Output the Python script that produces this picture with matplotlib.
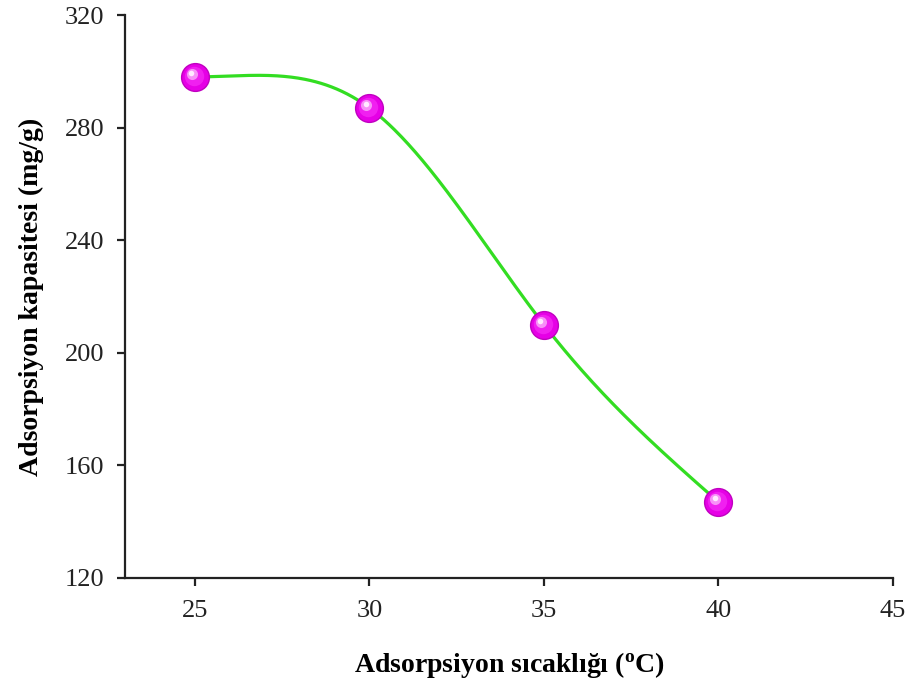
import numpy as np
import matplotlib
matplotlib.use("Agg")
import matplotlib.pyplot as plt
from matplotlib.transforms import ScaledTranslation

temps = [25, 30, 35, 40]
capacity = [298, 287, 210, 147]
x_ticks = [25, 30, 35, 40, 45]
y_ticks = [120, 160, 200, 240, 280, 320]

def spline(x, y, xs, start_slope=None):
    x = np.asarray(x, float); y = np.asarray(y, float)
    n = len(x)
    h = np.diff(x)
    A = np.zeros((n, n)); b = np.zeros(n)
    if start_slope is None:
        A[0, 0] = 1
    else:
        A[0, 0] = 2 * h[0]; A[0, 1] = h[0]
        b[0] = 6 * ((y[1] - y[0]) / h[0] - start_slope)
    A[-1, -1] = 1
    for i in range(1, n - 1):
        A[i, i - 1] = h[i - 1]
        A[i, i] = 2 * (h[i - 1] + h[i])
        A[i, i + 1] = h[i]
        b[i] = 6 * ((y[i + 1] - y[i]) / h[i] - (y[i] - y[i - 1]) / h[i - 1])
    M = np.linalg.solve(A, b)
    out = np.empty_like(xs)
    for k, xv in enumerate(xs):
        i = min(max(np.searchsorted(x, xv) - 1, 0), n - 2)
        t1 = x[i + 1] - xv; t0 = xv - x[i]
        out[k] = (M[i] * t1**3 + M[i + 1] * t0**3) / (6 * h[i]) \
            + (y[i] / h[i] - M[i] * h[i] / 6) * t1 \
            + (y[i + 1] / h[i] - M[i + 1] * h[i] / 6) * t0
    return out

plt.rcParams['font.family'] = ['Liberation Serif', 'DejaVu Serif']
fig = plt.figure(figsize=(9.09, 6.82), dpi=100)
ax = fig.add_axes([125/909, 1 - 578/682, (893-125)/909, (578-15)/682])

xs = np.linspace(temps[0], temps[-1], 300)
ax.plot(xs, spline(temps, capacity, xs, start_slope=0.0), color='#33dd22', lw=2.3, zorder=2)

def off(dx, dy):
    return ax.transData + ScaledTranslation(dx/100, dy/100, fig.dpi_scale_trans)

# spherical markers
ax.plot(temps, capacity, 'o', ms=20, color='#e600e6', mec='#c000c0', mew=1.0, zorder=3)
ax.plot(temps, capacity, 'o', ms=14, color='#f020f0', mew=0, zorder=4, transform=off(-1, 1))
ax.plot(temps, capacity, 'o', ms=8, color='#f890f8', mew=0, zorder=5, transform=off(-3, 3))
ax.plot(temps, capacity, 'o', ms=4, color='#ffeaff', mew=0, zorder=6, transform=off(-3.5, 3.5))

ax.set_xlim(23, 45)
ax.set_ylim(120, 320)
ax.set_xticks(x_ticks)
ax.set_yticks(y_ticks)
ax.spines['top'].set_visible(False)
ax.spines['right'].set_visible(False)
for s in ['left', 'bottom']:
    ax.spines[s].set_linewidth(1.6)
    ax.spines[s].set_color('#222222')
ax.tick_params(direction='out', length=6, width=1.6, labelsize=19, colors='#222222')
ax.tick_params(axis='x', pad=10)
ax.tick_params(axis='y', pad=9)
ax.set_xlabel('Adsorpsiyon sıcaklığı ($\\mathregular{^{o}}$C)', fontsize=20, fontweight='bold', labelpad=20)
ax.set_ylabel('Adsorpsiyon kapasitesi (mg/g)', fontsize=20, fontweight='bold', labelpad=15)

fig.savefig('out.png', dpi=100)
